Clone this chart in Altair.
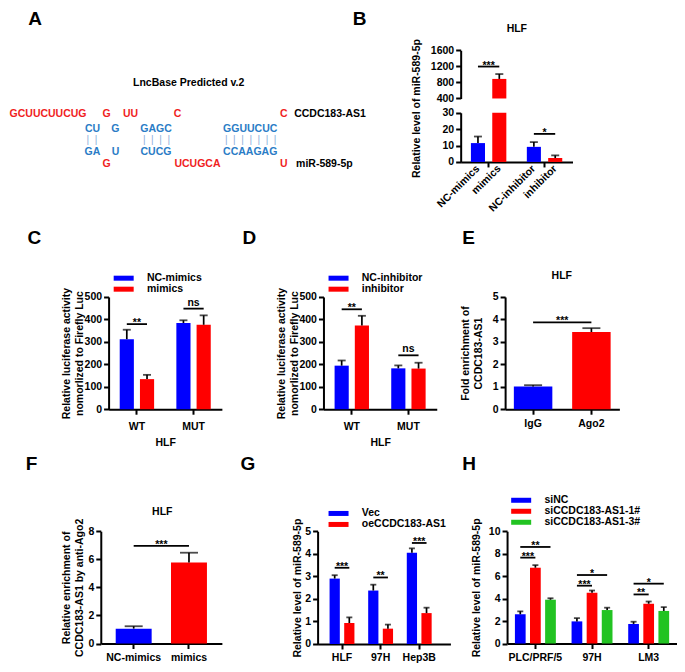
import altair as alt
import pandas as pd

# ---------------- data ----------------
# Panel B (HLF, broken axis)
B_bar_labels = ["NC-mimics", "mimics", "NC-inhibitor", "inhibitor"]
B_bar_group = ["mimics", "mimics", "inhibitor", "inhibitor"]
B_bar_series = ["NC", "treat", "NC", "treat"]
B_group_order = ["mimics", "inhibitor"]
B_mean = [11.5, 887, 9.2, 2.4]
B_sd = [4.0, 121, 2.9, 1.6]
B_sig_groups = ["mimics", "inhibitor"]
B_sig_levels = [1195, 17.1]
B_sig_labels = ["***", "*"]

# Panel C
C_groups = ["WT", "MUT"]
C_series = ["NC-mimics", "mimics"]
C_mean = [[312, 384], [134, 376]]
C_sd = [[42, 12], [19, 42]]
C_sig_levels = [379, 448]
C_sig_labels = ["**", "ns"]

# Panel D
D_groups = ["WT", "MUT"]
D_series = ["NC-inhibitor", "inhibitor"]
D_mean = [[194, 182], [373, 181]]
D_sd = [[23, 13], [43, 26]]
D_sig_levels = [445, 240]
D_sig_labels = ["**", "ns"]

# Panel E
E_cats = ["IgG", "Ago2"]
E_mean = [1.01, 3.44]
E_sd = [0.06, 0.17]
E_sig_level = 3.87
E_sig_label = "***"

# Panel F
F_cats = ["NC-mimics", "mimics"]
F_mean = [1.06, 5.78]
F_sd = [0.17, 0.69]
F_sig_level = 6.96
F_sig_label = "***"

# Panel G
G_groups = ["HLF", "97H", "Hep3B"]
G_series = ["Vec", "oeCCDC183-AS1"]
G_mean = [[2.90, 2.37, 4.05], [0.93, 0.68, 1.37]]
G_sd = [[0.15, 0.26, 0.19], [0.25, 0.18, 0.24]]
G_sig_levels = [3.38, 2.95, 4.48]
G_sig_labels = ["***", "**", "***"]

# Panel H
H_groups = ["PLC/PRF/5", "97H", "LM3"]
H_series = ["siNC", "siCCDC183-AS1-1#", "siCCDC183-AS1-3#"]
H_mean = [[2.60, 1.97, 1.74], [6.75, 4.52, 3.54], [3.90, 2.98, 2.90]]
H_sd = [[0.27, 0.29, 0.20], [0.23, 0.20, 0.20], [0.13, 0.21, 0.34]]
H_sig_groups = ["PLC/PRF/5", "PLC/PRF/5", "97H", "97H", "LM3", "LM3"]
H_sig_to = ["siCCDC183-AS1-1#", "siCCDC183-AS1-3#"] * 3
H_sig_levels = [7.65, 8.6, 5.15, 6.1, 4.37, 5.33]
H_sig_labels = ["***", "**", "***", "*", "**", "*"]

# Panel A (sequence alignment text)
A_seq_text = ["GCUUCUUCUG", "G", "UU", "C", "C",
              "CU", "G", "GAGC", "GGUUCUC",
              "GA", "U", "CUCG", "CCAAGAG",
              "G", "UCUGCA", "U"]
A_seq_col = [41, 101, 125.5, 173.5, 282.5,
             86.5, 110, 151.5, 248,
             86.5, 110, 151.5, 248,
             101, 194, 282.5]
A_seq_row = [0] * 5 + [1] * 4 + [3] * 4 + [4] * 3
A_pairs = [2, 4, 7]
A_pair_col = [86, 152, 248.5]

# ---------------- style / layout ----------------
BLUE, RED, GREEN = "#0000FF", "#FF0000", "#22C322"
SEQ_RED, SEQ_BLUE, PAIR_BLUE = "#F01E1E", "#2A7CC6", "#8DB0DA"
FONT = "Liberation Sans"
LINE_H = 13

W, H = 669, 656
SX, SY = W / 685, H / 672


def X(v):
    return round(v * SX, 2)


def Y(v):
    return round(v * SY, 2)


AX = dict(domainColor="black", domainWidth=2, tickColor="black", tickWidth=2, tickSize=5,
          labelColor="black", labelFont=FONT, labelFontWeight="bold", labelFontSize=10.5,
          titleColor="black", titleFont=FONT, titleFontWeight="bold", titleFontSize=10.5,
          grid=False)


def y_axis(x_ref, values, title=None, gap=0, title_y=None):
    kw = dict(AX, orient="left", offset=-X(x_ref), values=values, labelPadding=2, format="d")
    if title is None:
        kw["title"] = None
    else:
        nlines = len(title) if isinstance(title, list) else 1
        kw.update(title=title, titleX=-(X(gap) + LINE_H * (nlines - 1)), titleAngle=270,
                  titleBaseline="bottom", titleAlign="center", titleLineHeight=LINE_H)
        if title_y is not None:
            kw["titleY"] = Y(title_y)
    return alt.Axis(**kw)


def x_axis(y_ref, labels=True, title=None, title_dy=34, pad=4):
    kw = dict(AX, orient="bottom", offset=round(Y(y_ref) - H, 2), labelAngle=0,
              labelPadding=pad, labels=labels)
    if title:
        kw.update(title=title, titleY=Y(title_dy), titleBaseline="middle")
    else:
        kw["title"] = None
    return alt.Axis(**kw)


def legend(x_ref, y_ref):
    return alt.Legend(orient="none", legendX=X(x_ref) + 3, legendY=Y(y_ref) - 4, title=None,
                      symbolType="M-2,-0.5H2V0.5H-2Z", symbolSize=100, symbolStrokeWidth=0,
                      labelFont=FONT, labelFontSize=10.5, labelFontWeight="bold",
                      labelColor="black", labelOffset=18, rowPadding=0, padding=0,
                      labelLimit=300, direction="vertical")


def sig_texts(data, dx=0, **enc):
    """Significance labels: asterisks sit lower in the em box than 'ns'."""
    out = []
    stars = data[data["label"] != "ns"]
    ns = data[data["label"] == "ns"]
    for sub, dy in ((stars, 2), (ns, -3)):
        if len(sub):
            out.append(alt.Chart(sub).mark_text(
                font=FONT, fontSize=10.5, fontWeight="bold", baseline="alphabetic",
                dy=dy, dx=dx, color="black").encode(text="label:N", **enc))
    return out


def grouped_panel(groups, series, means, sds, colors, frame, ydom, yvals, xsc, osc,
                  ytitle, ygap, sig_groups, sig_levels, sig_labels, sig_to=None,
                  xtitle=None, leg=None, cap=8, xpad=4):
    x0, x1, y0, y1 = frame
    rows = []
    for si, s in enumerate(series):
        for gi, g in enumerate(groups):
            rows.append(dict(group=g, series=s, mean=means[si][gi], top=means[si][gi] + sds[si][gi]))
    df = pd.DataFrame(rows)
    xs = alt.Scale(domain=groups, range=[X(x0), X(x1)], **xsc)
    os_ = alt.Scale(domain=series, **osc)
    ys = alt.Scale(domain=ydom, range=[Y(y1), Y(y0)], nice=False, zero=False)
    cs = alt.Scale(domain=series, range=colors)
    xax = x_axis(y1, title=xtitle, pad=xpad)
    yax = y_axis(x0, yvals, ytitle, ygap)
    xa = alt.X("group:N", scale=xs, axis=xax)
    xo = alt.XOffset("series:N", scale=os_)

    def yq(field):
        return alt.Y(field, type="quantitative", scale=ys, axis=yax)

    base = alt.Chart(df)
    bars = base.mark_bar().encode(
        x=xa, xOffset=xo, y=yq("mean"),
        color=alt.Color("series:N", scale=cs, legend=leg))
    err = base.mark_rule(color="black", strokeWidth=1.7).encode(
        x=xa, xOffset=xo, y=yq("mean"), y2="top:Q")
    caps = base.mark_tick(color="black", thickness=1.8, size=cap, orient="horizontal").encode(
        x=xa, xOffset=xo, y=yq("top"))
    if sig_to is None:
        sig_to = [series[1]] * len(sig_groups)
    lrows, trows = [], []
    for i, (g, t, lv, lb) in enumerate(zip(sig_groups, sig_to, sig_levels, sig_labels)):
        lrows.append(dict(id=i, group=g, series=series[0], level=lv))
        lrows.append(dict(id=i, group=g, series=t, level=lv))
        trows.append(dict(group=g, to=t, level=lv, label=lb))
    ldf = pd.DataFrame(lrows)
    tdf = pd.DataFrame(trows)
    lines = alt.Chart(ldf).mark_line(color="black", strokeWidth=1.8).encode(
        x=xa, xOffset=xo, y=yq("level"), detail="id:N")
    layers = [bars, err, caps, lines]
    if len(series) == 2:
        layers += sig_texts(tdf, x=xa, y=yq("level"))
    else:
        n = len(groups)
        gbw = (X(x1) - X(x0)) / (n - xsc.get("paddingInner", 0) + 2 * xsc.get("paddingOuter", 0))
        step = gbw / (len(series) - osc["paddingInner"] + 2 * osc["paddingOuter"])
        narrow = tdf[tdf["to"] == series[1]].assign(anchor=series[0])
        wide = tdf[tdf["to"] == series[2]].assign(anchor=series[1])
        for sub, dx in ((narrow, step / 2), (wide, 0)):
            layers += sig_texts(sub, dx=dx, x=xa, xOffset=alt.XOffset("anchor:N", scale=os_),
                                y=yq("level"))
    return alt.layer(*layers)


def single_panel(cats, means, sds, colors, frame, ydom, yvals, xsc, ytitle, ygap,
                 sig_level, sig_label, cap=18):
    x0, x1, y0, y1 = frame
    df = pd.DataFrame(dict(cat=cats, mean=means, top=[m + s for m, s in zip(means, sds)]))
    xs = alt.Scale(domain=cats, range=[X(x0), X(x1)], **xsc)
    ys = alt.Scale(domain=ydom, range=[Y(y1), Y(y0)], nice=False, zero=False)
    cs = alt.Scale(domain=cats, range=colors)
    xax = x_axis(y1)
    yax = y_axis(x0, yvals, ytitle, ygap)
    xa = alt.X("cat:N", scale=xs, axis=xax)

    def yq(field):
        return alt.Y(field, type="quantitative", scale=ys, axis=yax)

    base = alt.Chart(df)
    bars = base.mark_bar().encode(
        x=xa, y=yq("mean"), color=alt.Color("cat:N", scale=cs, legend=None))
    err = base.mark_rule(color="black", strokeWidth=1.7).encode(x=xa, y=yq("mean"), y2="top:Q")
    caps = base.mark_tick(color="black", thickness=1.8, size=cap, orient="horizontal").encode(
        x=xa, y=yq("top"))
    ldf = pd.DataFrame(dict(cat=cats, level=[sig_level] * len(cats)))
    lines = alt.Chart(ldf).mark_line(color="black", strokeWidth=1.8).encode(x=xa, y=yq("level"))
    step = (X(x1) - X(x0)) / (len(cats) - xsc["paddingInner"] + 2 * xsc["paddingOuter"])
    tdf = pd.DataFrame(dict(cat=[cats[0]], level=[sig_level], label=[sig_label]))
    return alt.layer(bars, err, caps, lines,
                     *sig_texts(tdf, dx=step / 2, x=xa, y=yq("level")))


# ---------------- panel B (broken axis) ----------------
dfB = pd.DataFrame(dict(group=B_bar_group, series=B_bar_series, label=B_bar_labels,
                        mean=B_mean, top=[m + s for m, s in zip(B_mean, B_sd)]))
BX0, BX1 = 463.5, 578
xsB = alt.Scale(domain=B_group_order, range=[X(BX0), X(BX1)], paddingInner=0, paddingOuter=0)
osB = alt.Scale(domain=["NC", "treat"], paddingInner=0.34, paddingOuter=0.48)
csB = alt.Scale(domain=["NC", "treat"], range=[BLUE, RED])
xoB = alt.XOffset("series:N", scale=osB)
ys_top = alt.Scale(domain=[400, 1600], range=[Y(92.7), Y(43.3)], nice=False, zero=False)
ys_bot = alt.Scale(domain=[0, 30], range=[Y(157.7), Y(107.3)], nice=False, zero=False)
yax_top = y_axis(BX0, [400, 800, 1200, 1600])
yax_bot = y_axis(BX0, [0, 10, 20, 30], "Relative level of miR-589-5p", 40, 102.5)
xB_top = alt.X("group:N", scale=xsB, axis=None)
xB_bot = alt.X("group:N", scale=xsB, axis=x_axis(157.7, labels=False))


def yt(field):
    return alt.Y(field, type="quantitative", scale=ys_top, axis=yax_top)


def yb(field):
    return alt.Y(field, type="quantitative", scale=ys_bot, axis=yax_bot)


sigB = pd.DataFrame(dict(group=B_sig_groups, level=B_sig_levels, label=B_sig_labels))
sigB_lines = pd.DataFrame([dict(id=i, group=g, series=s, level=l)
                           for i, (g, l) in enumerate(zip(B_sig_groups, B_sig_levels))
                           for s in ["NC", "treat"]])

top_data = alt.Chart(dfB).transform_filter("datum.mean > 400")
B_top = alt.layer(
    top_data.mark_bar().encode(
        x=xB_top, xOffset=xoB, y=yt("mean"), y2=alt.datum(400),
        color=alt.Color("series:N", scale=csB, legend=None)),
    top_data.mark_rule(color="black", strokeWidth=1.7).encode(
        x=xB_top, xOffset=xoB, y=yt("mean"), y2="top:Q"),
    top_data.mark_tick(color="black", thickness=1.8, size=8, orient="horizontal").encode(
        x=xB_top, xOffset=xoB, y=yt("top")),
    alt.Chart(sigB_lines[sigB_lines["level"] > 30]).mark_line(
        color="black", strokeWidth=1.8).encode(
        x=xB_top, xOffset=xoB, y=yt("level"), detail="id:N"),
    *sig_texts(sigB[sigB["level"] > 30], x=xB_top, y=yt("level")),
)

bot_base = alt.Chart(dfB).transform_calculate(shown="min(datum.mean, 30)")
B_bot = alt.layer(
    bot_base.mark_bar().encode(
        x=xB_bot, xOffset=xoB, y=yb("shown"),
        color=alt.Color("series:N", scale=csB, legend=None)),
    bot_base.transform_filter("datum.top <= 30").mark_rule(color="black", strokeWidth=1.7).encode(
        x=xB_bot, xOffset=xoB, y=yb("mean"), y2="top:Q"),
    bot_base.transform_filter("datum.top <= 30").mark_tick(
        color="black", thickness=1.8, size=8, orient="horizontal").encode(
        x=xB_bot, xOffset=xoB, y=yb("top")),
    alt.Chart(sigB_lines[sigB_lines["level"] <= 30]).mark_line(
        color="black", strokeWidth=1.8).encode(
        x=xB_bot, xOffset=xoB, y=yb("level"), detail="id:N"),
    *sig_texts(sigB[sigB["level"] <= 30], x=xB_bot, y=yb("level")),
    bot_base.mark_text(font=FONT, fontSize=10.5, fontWeight="bold", angle=315, align="right",
                       baseline="middle", color="black").encode(
        x=xB_bot, xOffset=xoB, y=alt.value(Y(163)), text="label:N"),
)

# ---------------- panels C-H ----------------
panel_C = grouped_panel(C_groups, C_series, C_mean, C_sd, [BLUE, RED], (103, 219, 296, 411),
                        [0, 500], [0, 100, 200, 300, 400, 500],
                        dict(paddingInner=0, paddingOuter=0),
                        dict(paddingInner=0.3, paddingOuter=0.55),
                        ["Relative luciferase activity", "nomorlized to Firefly Luc"], 24.7,
                        C_groups, C_sig_levels, C_sig_labels, xtitle="HLF",
                        leg=legend(110, 275.5), cap=8, xpad=7)
panel_D = grouped_panel(D_groups, D_series, D_mean, D_sd, [BLUE, RED], (323, 439, 296, 411),
                        [0, 500], [0, 100, 200, 300, 400, 500],
                        dict(paddingInner=0, paddingOuter=0),
                        dict(paddingInner=0.3, paddingOuter=0.55),
                        ["Relative luciferase activity", "nomorlized to Firefly Luc"], 24.7,
                        D_groups, D_sig_levels, D_sig_labels, xtitle="HLF",
                        leg=legend(330, 275.5), cap=8, xpad=7)
panel_E = single_panel(E_cats, E_mean, E_sd, [BLUE, RED], (509, 626, 296, 411), [0, 5],
                       [0, 1, 2, 3, 4, 5], dict(paddingInner=0.34, paddingOuter=0.15),
                       ["Fold enrichment of", "CCDC183-AS1"], 22, E_sig_level, E_sig_label)
panel_F = single_panel(F_cats, F_mean, F_sd, [BLUE, RED], (95, 219, 536, 651), [0, 8],
                       [0, 2, 4, 6, 8], dict(paddingInner=0.35, paddingOuter=0.27),
                       ["Relative enrichment of", "CCDC183-AS1 by anti-Ago2"], 17,
                       F_sig_level, F_sig_label)
panel_G = grouped_panel(G_groups, G_series, G_mean, G_sd, [BLUE, RED], (317, 453, 536, 651.5),
                        [0, 5], [0, 1, 2, 3, 4, 5],
                        dict(paddingInner=0, paddingOuter=0.22, align=0.3),
                        dict(paddingInner=0.3, paddingOuter=0.47),
                        "Relative level of miR-589-5p", 15,
                        G_groups, G_sig_levels, G_sig_labels,
                        leg=legend(330, 516.5), cap=6)
panel_H = grouped_panel(H_groups, H_series, H_mean, H_sd, [BLUE, RED, GREEN],
                        (511, 685, 536, 651), [0, 10], [0, 2, 4, 6, 8, 10],
                        dict(paddingInner=0, paddingOuter=0),
                        dict(paddingInner=0.29, paddingOuter=0.52),
                        "Relative level of miR-589-5p", 26,
                        H_sig_groups, H_sig_levels, H_sig_labels, sig_to=H_sig_to,
                        leg=legend(517, 503), cap=6)

# ---------------- canvas: panel letters, titles, panel A ----------------
letters = ["A", "B", "C", "D", "E", "F", "G", "H"]
letter_x = [20.7, 353, 20, 240, 465, 18.3, 238, 465]
letter_y = [11.7, 11.7, 235.5, 235.5, 235.5, 467.5, 467.5, 467.5]
titles = ["LncBase Predicted v.2", "HLF", "HLF", "HLF"]
title_x = [185, 521, 567, 158]
title_y = [77, 22, 275, 516]
row_y = [108.3, 124, 135.7, 147.3, 160]
row_col = {0: SEQ_RED, 1: SEQ_BLUE, 3: SEQ_BLUE, 4: SEQ_RED}

cx = alt.X("x:Q", scale=alt.Scale(domain=[0, 685], range=[0, W], nice=False, zero=False), axis=None)
cy = alt.Y("y:Q", scale=alt.Scale(domain=[0, 672], range=[0, H], nice=False, zero=False), axis=None)

df_letters = pd.DataFrame(dict(t=letters, x=letter_x, y=letter_y))
df_titles = pd.DataFrame(dict(t=titles, x=title_x, y=title_y))
df_seq = pd.DataFrame(dict(t=A_seq_text, x=A_seq_col, y=[row_y[r] for r in A_seq_row],
                           c=[row_col[r] for r in A_seq_row]))
df_pairs = pd.DataFrame(dict(t=["\u00a0\u00a0".join(["|"] * n) for n in A_pairs],
                             x=A_pair_col, y=[row_y[2]] * 3))
df_names = pd.DataFrame(dict(t=["CCDC183-AS1", "miR-589-5p"], x=[293, 295],
                             y=[row_y[0], row_y[4]]))

canvas = alt.layer(
    alt.Chart(df_letters).mark_text(font=FONT, fontSize=19, fontWeight="bold", align="left",
                                    baseline="middle", color="black").encode(x=cx, y=cy, text="t:N"),
    alt.Chart(df_titles).mark_text(font=FONT, fontSize=10.5, fontWeight="bold", align="center",
                                   baseline="middle", color="black").encode(x=cx, y=cy, text="t:N"),
    alt.Chart(df_seq).mark_text(font=FONT, fontSize=10.5, fontWeight="bold", align="center",
                                baseline="middle").encode(
        x=cx, y=cy, text="t:N", color=alt.Color("c:N", scale=None)),
    alt.Chart(df_pairs).mark_text(font=FONT, fontSize=10, fontWeight="normal", align="center",
                                  baseline="middle", color=PAIR_BLUE).encode(x=cx, y=cy, text="t:N"),
    alt.Chart(df_names).mark_text(font=FONT, fontSize=10.5, fontWeight="bold", align="left",
                                  baseline="middle", color="black").encode(x=cx, y=cy, text="t:N"),
)

chart = alt.layer(
    canvas, B_top, B_bot, panel_C, panel_D, panel_E, panel_F, panel_G, panel_H
).resolve_scale(
    x="independent", y="independent", color="independent", xOffset="independent"
).resolve_axis(
    x="independent", y="independent"
).resolve_legend(
    color="independent"
).properties(
    width=W, height=H, padding=0
).configure_view(stroke=None)

chart.save("out.html", embed_options={"renderer": "svg", "actions": False})
